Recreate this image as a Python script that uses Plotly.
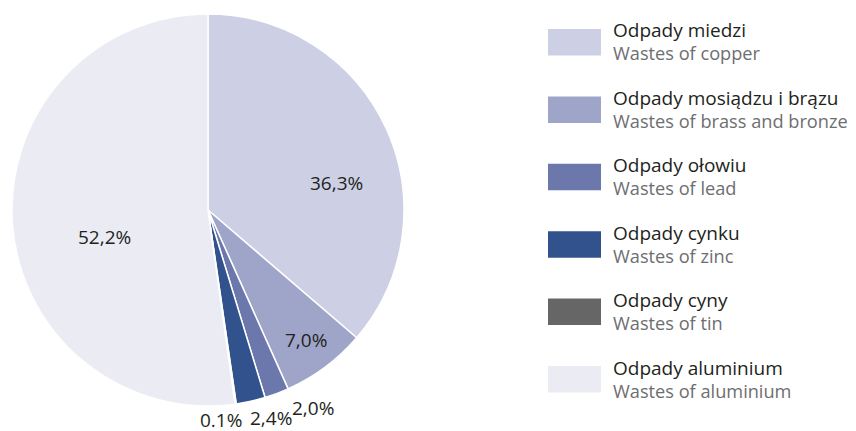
import math
import plotly.graph_objects as go

# ---- data ----
categories_pl = ["Odpady miedzi", "Odpady mosiądzu i brązu", "Odpady ołowiu",
                 "Odpady cynku", "Odpady cyny", "Odpady aluminium"]
categories_en = ["Wastes of copper", "Wastes of brass and bronze", "Wastes of lead",
                 "Wastes of zinc", "Wastes of tin", "Wastes of aluminium"]
values = [36.3, 7.0, 2.0, 2.4, 0.1, 52.2]
value_labels = ["36,3%", "7,0%", "2,0%", "2,4%", "0.1%", "52,2%"]

# ---- style ----
colors = ["#cdd0e5", "#9ea5c8", "#6c78ab", "#32528d", "#666666", "#ebebf4"]
# label anchor: fraction of the radius along the slice mid-angle, plus pixel nudges
lab_r = [0.60, 0.80, 1.0, 1.0, 1.0, 0.55]
lab_dx = [22, 4, 36, 20, -15, 4]
lab_dy = [22, 4, 14, 17, 16, 20]

W, H = 856, 431
FONT = "Open Sans"
DARK = "#231f20"
GRAY = "#6d6e71"


def fx(x):  # pixel x -> paper
    return x / W


def fy(y):  # pixel y (from top) -> paper
    return 1 - y / H


# pie geometry (pixels)
CX, CY, R = 208, 210, 196

fig = go.Figure()
fig.add_trace(go.Pie(
    values=values,
    labels=categories_pl,
    textinfo="none",
    sort=False,
    direction="clockwise",
    rotation=0,
    automargin=False,
    marker=dict(colors=colors, line=dict(color="white", width=1.5)),
    showlegend=False,
    domain=dict(x=[fx(CX - R), fx(CX + R)], y=[fy(CY + R), fy(CY - R)]),
    hoverinfo="label+percent",
))

annotations = []
shapes = []

# value labels anchored at each slice's mid-angle
total = sum(values)
cum = 0.0
for i, v in enumerate(values):
    mid = (cum + v / 2) / total * 2 * math.pi
    cum += v
    px = CX + lab_r[i] * R * math.sin(mid) + lab_dx[i]
    py = CY - lab_r[i] * R * math.cos(mid) + lab_dy[i]
    annotations.append(dict(xref="paper", yref="paper", x=fx(px), y=fy(py),
                            xanchor="center", yanchor="middle", showarrow=False,
                            text=value_labels[i],
                            font=dict(family=FONT, size=19, color=DARK)))

# legend: swatch + two-line text
top0 = 29
step = 67.4
for i, (pl, en, c) in enumerate(zip(categories_pl, categories_en, colors)):
    y0 = top0 + i * step
    y1 = y0 + 26.5
    shapes.append(dict(type="rect", xref="paper", yref="paper",
                       x0=fx(548), x1=fx(601), y0=fy(y1), y1=fy(y0),
                       fillcolor=c, line=dict(width=0)))
    annotations.append(dict(xref="paper", yref="paper", x=fx(611), y=fy(y0 + 1.5),
                            xanchor="left", yanchor="middle", showarrow=False,
                            text=pl, font=dict(family=FONT, size=19, color=DARK)))
    annotations.append(dict(xref="paper", yref="paper", x=fx(611), y=fy(y0 + 24.5),
                            xanchor="left", yanchor="middle", showarrow=False,
                            text=en, font=dict(family=FONT, size=18.2, color=GRAY)))

fig.update_layout(
    width=W, height=H,
    margin=dict(l=0, r=0, t=0, b=0, autoexpand=False),
    paper_bgcolor="white",
    plot_bgcolor="white",
    showlegend=False,
    shapes=shapes,
    annotations=annotations,
    font=dict(family=FONT, color=DARK),
)

fig.write_html(
    "out.html",
    config={"displayModeBar": False},
    post_script="document.body.style.margin='0';document.body.style.overflow='hidden';",
)
